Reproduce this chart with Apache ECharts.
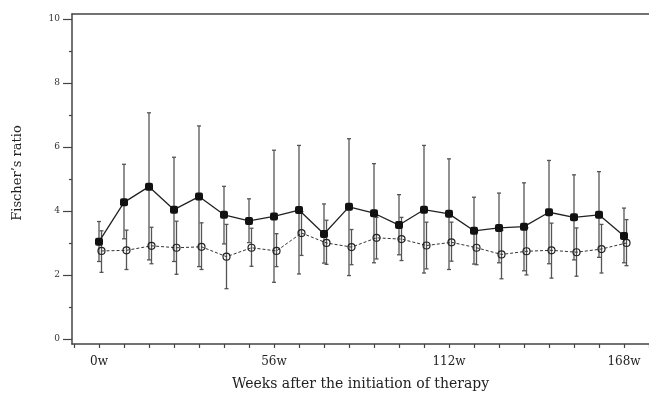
<!DOCTYPE html>
<html>
<head>
<meta charset="utf-8">
<script src="https://cdn.jsdelivr.net/npm/echarts@6/dist/echarts.min.js"></script>
<style>
  html, body { margin: 0; padding: 0; background: #fff; }
  #main { width: 649px; height: 393px; }
</style>
</head>
<body>
<div id="main"></div>
<script>
// weeks after start of therapy
let weeks = [0, 8, 16, 24, 32, 40, 48, 56, 64, 72, 80, 88, 96, 104, 112, 120, 128, 136, 144, 152, 160, 168];
let weekTicks = [-8, 0, 8, 16, 24, 32, 40, 48, 56, 64, 72, 80, 88, 96, 104, 112, 120, 128, 136, 144, 152, 160, 168, 176];
let weekLabels = [0, 56, 112, 168];
let ratioTicks = [0, 2, 4, 6, 8, 10];
let ratioMinorTicks = [1, 3, 5, 7, 9];

// filled markers (solid line)
let solidMean = [3.04, 4.27, 4.76, 4.04, 4.45, 3.88, 3.69, 3.83, 4.03, 3.28, 4.13, 3.93, 3.56, 4.04, 3.91, 3.38, 3.47, 3.51, 3.96, 3.80, 3.88, 3.22];
let solidHigh = [3.67, 5.46, 7.07, 5.68, 6.66, 4.77, 4.38, 5.90, 6.05, 4.22, 6.26, 5.48, 4.51, 6.05, 5.63, 4.43, 4.56, 4.88, 5.58, 5.13, 5.23, 4.09];
let solidLow = [2.42, 3.13, 2.47, 2.42, 2.26, 2.97, 3.01, 1.77, 2.03, 2.37, 1.98, 2.38, 2.63, 2.06, 2.17, 2.34, 2.38, 2.13, 2.35, 2.47, 2.55, 2.38];

// open markers (dashed line)
let dashMean = [2.75, 2.77, 2.91, 2.85, 2.88, 2.57, 2.85, 2.75, 3.31, 3.00, 2.87, 3.16, 3.12, 2.92, 3.02, 2.85, 2.64, 2.74, 2.77, 2.71, 2.81, 3.00];
let dashHigh = [3.38, 3.40, 3.49, 3.68, 3.63, 3.58, 3.46, 3.29, 3.98, 3.71, 3.42, 3.80, 3.80, 3.65, 3.65, 3.38, 3.40, 3.48, 3.62, 3.47, 3.58, 3.73];
let dashLow = [2.08, 2.17, 2.35, 2.02, 2.17, 1.57, 2.27, 2.26, 2.61, 2.33, 2.32, 2.50, 2.45, 2.19, 2.43, 2.32, 1.88, 2.00, 1.90, 1.96, 2.06, 2.29];

// open series is drawn slightly to the right so bars don't overlap
let dodge = 0.8;

let myChart = echarts.init(document.getElementById('main'));
let axisColor = '#444';
let serif = 'DejaVu Serif';

function pairs(xs, ys, shift) {
    return xs.map((x, i) => [x + shift, ys[i]]);
}
function bars(xs, lo, hi, shift) {
    return xs.map((x, i) => [x + shift, lo[i], hi[i]]);
}

//误差线
function renderBar(params, api) {
    let x = api.value(0);
    let top = api.coord([x, api.value(2)]);
    let bottom = api.coord([x, api.value(1)]);
    let style = { stroke: '#555', lineWidth: 1.3 };
    return {
        type: 'group',
        children: [
            { type: 'line', shape: { x1: top[0], y1: top[1], x2: bottom[0], y2: bottom[1] }, style: style },
            { type: 'line', shape: { x1: top[0] - 2, y1: top[1], x2: top[0] + 2, y2: top[1] }, style: style },
            { type: 'line', shape: { x1: bottom[0] - 2, y1: bottom[1], x2: bottom[0] + 2, y2: bottom[1] }, style: style }
        ]
    };
}

let option = {
    backgroundColor: '#fff',
    animation: false,
    grid: { left: 72, right: 0, top: 14, bottom: 49, containLabel: false, outerBoundsMode: 'none' },
    xAxis: [
        {
            type: 'value',
            min: -8.64,
            max: 176,
            position: 'bottom',
            name: 'Weeks after the initiation of therapy',
            nameLocation: 'middle',
            nameGap: 33,
            nameTextStyle: { fontFamily: serif, fontSize: 14, color: '#222' },
            axisLine: { show: true, onZero: false, lineStyle: { color: axisColor, width: 1.5 } },
            axisTick: { show: true, length: 4, customValues: weekTicks, lineStyle: { color: axisColor, width: 1.2 } },
            axisLabel: {
                customValues: weekLabels,
                margin: 12,
                fontFamily: serif,
                fontSize: 12,
                color: '#222',
                formatter: (v) => v + 'w'
            },
            splitLine: { show: false }
        },
        {
            type: 'value',
            min: -8.64,
            max: 176,
            position: 'top',
            axisLine: { show: true, onZero: false, lineStyle: { color: axisColor, width: 1.5 } },
            axisTick: { show: false },
            axisLabel: { show: false },
            splitLine: { show: false }
        }
    ],
    yAxis: [
        {
            type: 'value',
            min: -0.16,
            max: 10.16,
            position: 'left',
            name: 'Fischer\u2019s ratio',
            nameLocation: 'middle',
            nameGap: 48,
            nameRotate: 90,
            nameTextStyle: { fontFamily: serif, fontSize: 13, color: '#222', padding: [0, 0, 0, 12] },
            axisLine: { show: true, onZero: false, lineStyle: { color: axisColor, width: 1.5 } },
            axisTick: { show: true, length: 9, customValues: ratioTicks, lineStyle: { color: axisColor, width: 1.2 } },
            axisLabel: { customValues: ratioTicks, margin: 12, fontFamily: serif, fontSize: 9, color: '#333' },
            splitLine: { show: false }
        },
        {
            type: 'value',
            min: -0.16,
            max: 10.16,
            position: 'left',
            axisLine: { show: false, onZero: false },
            axisTick: { show: true, length: 3, customValues: ratioMinorTicks, lineStyle: { color: axisColor, width: 1.2 } },
            axisLabel: { show: false },
            splitLine: { show: false }
        }
    ],
    series: [
        {
            type: 'custom',
            renderItem: renderBar,
            data: bars(weeks, dashLow, dashHigh, dodge),
            z: 1
        },
        {
            type: 'custom',
            renderItem: renderBar,
            data: bars(weeks, solidLow, solidHigh, 0),
            z: 1
        },
        {
            type: 'line',
            data: pairs(weeks, dashMean, dodge),
            symbol: 'circle',
            symbolSize: 7,
            lineStyle: { color: '#333', width: 1, type: [3, 2] },
            itemStyle: { color: 'rgba(255,255,255,0)', borderColor: '#222', borderWidth: 1.2 },
            z: 3
        },
        {
            type: 'line',
            data: pairs(weeks, solidMean, 0),
            symbol: 'roundRect',
            symbolSize: 8,
            lineStyle: { color: '#222', width: 1.3 },
            itemStyle: { color: '#111' },
            z: 4
        }
    ]
};
myChart.setOption(option);
</script>
</body>
</html>
